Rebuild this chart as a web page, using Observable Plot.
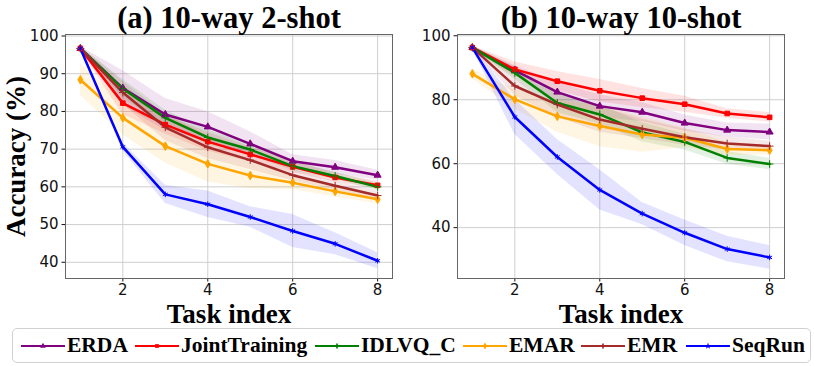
<!DOCTYPE html>
<html>
<head>
<meta charset="utf-8">
<script src="https://cdn.jsdelivr.net/npm/d3@7"></script>
<script src="https://cdn.jsdelivr.net/npm/@observablehq/plot@0.6"></script>
<style>
  html, body { margin: 0; padding: 0; background: white; }
  #fig { position: relative; width: 814px; height: 366px; overflow: hidden; background: white; }
  .panel { position: absolute; top: 0; }
  #legend {
    position: absolute; left: 12px; top: 328px; width: 797px; height: 33px;
    border: 1px solid #d0d0d0; border-radius: 5px; box-sizing: content-box; color: #000;
  }
  .item { position: absolute; top: 0; height: 33px; display: flex; align-items: center; white-space: nowrap; }
  .item svg { margin-right: 2px; }
</style>
</head>
<body>
<div id="fig">
  <div id="left" class="panel" style="left:0px"></div>
  <div id="right" class="panel" style="left:400px"></div>
  <div id="legend"></div>
</div>
<script>
// ---- data ----
const tasks = [1, 2, 3, 4, 5, 6, 7, 8];
const methods = ["ERDA", "JointTraining", "IDLVQ_C", "EMAR", "EMR", "SeqRun"];
const colors = ["#800080", "#ff0000", "#008000", "#ffa500", "#a52a2a", "#0000ff"];
const symbols = ["triangle", "square", "plus", "diamond", "plus", "asterisk"];

const titleA = "(a) 10-way 2-shot";
const titleB = "(b) 10-way 10-shot";
const xLabel = "Task index";
const yLabel = "Accuracy (%)";
const xTicks = [2, 4, 6, 8];
const yTicksA = [40, 50, 60, 70, 80, 90, 100];
const yTicksB = [40, 60, 80, 100];

// (a) 10-way 2-shot: means
const a_ERDA   = [96.7, 86.2, 79.2, 75.9, 71.4, 66.8, 65.2, 63.1];
const a_Joint  = [96.7, 82.2, 76.5, 72.0, 68.6, 65.3, 62.5, 60.4];
const a_IDLVQ  = [96.7, 86.0, 78.3, 73.1, 69.9, 65.5, 62.9, 60.0];
const a_EMAR   = [88.4, 78.3, 70.8, 66.1, 63.0, 61.1, 58.8, 56.7];
const a_EMR    = [96.7, 85.0, 75.8, 70.5, 67.1, 63.1, 60.3, 57.7];
const a_SeqRun = [96.7, 70.6, 58.0, 55.4, 52.0, 48.3, 44.9, 40.4];
// (a) band half-widths
const a_ERDA_sd   = [0.5, 4.6, 4.2, 4.0, 3.2, 1.7, 1.8, 1.3];
const a_Joint_sd  = [0.5, 3.0, 2.5, 2.5, 2.0, 1.5, 1.2, 1.0];
const a_IDLVQ_sd  = [0.5, 2.5, 2.0, 2.0, 1.5, 1.2, 1.0, 1.0];
const a_EMAR_sd   = [4.1, 4.5, 4.5, 4.8, 3.5, 1.8, 1.5, 1.2];
const a_EMR_sd    = [0.5, 3.0, 3.5, 3.0, 2.5, 1.5, 1.2, 1.2];
const a_SeqRun_sd = [0.3, 1.0, 2.4, 3.5, 2.7, 4.4, 2.9, 2.1];

// (b) 10-way 10-shot: means
const b_ERDA   = [96.3, 89.2, 82.4, 78.0, 76.1, 72.7, 70.5, 69.9];
const b_Joint  = [96.3, 89.5, 85.8, 82.8, 80.5, 78.6, 75.7, 74.5];
const b_IDLVQ  = [96.3, 88.4, 79.0, 75.4, 69.8, 66.8, 61.8, 59.9];
const b_EMAR   = [88.1, 80.1, 74.8, 71.8, 69.1, 68.1, 64.6, 64.2];
const b_EMR    = [96.3, 84.3, 78.5, 73.8, 70.9, 68.3, 66.3, 65.5];
const b_SeqRun = [96.3, 74.6, 62.1, 51.8, 44.4, 38.4, 33.3, 30.7];
// (b) band half-widths
const b_ERDA_sd   = [0.5, 1.5, 3.0, 3.5, 3.0, 2.5, 2.2, 2.5];
const b_Joint_sd  = [0.5, 2.3, 3.0, 3.5, 3.0, 2.5, 1.5, 1.5];
const b_IDLVQ_sd  = [0.5, 2.0, 3.0, 3.0, 3.0, 2.5, 2.0, 1.8];
const b_EMAR_sd   = [1.5, 3.0, 5.0, 6.5, 5.5, 3.0, 2.0, 1.5];
const b_EMR_sd    = [0.5, 3.0, 4.0, 4.0, 3.0, 2.5, 2.0, 1.5];
const b_SeqRun_sd = [0.5, 5.5, 5.5, 6.3, 3.5, 4.0, 4.0, 3.7];

function rows(means, sds) {
  const out = [];
  methods.forEach((m, k) => {
    tasks.forEach((t, i) => {
      out.push({method: m, task: t, value: means[k][i], lo: means[k][i] - sds[k][i], hi: means[k][i] + sds[k][i]});
    });
  });
  return out;
}
const dataA = rows([a_ERDA, a_Joint, a_IDLVQ, a_EMAR, a_EMR, a_SeqRun],
                   [a_ERDA_sd, a_Joint_sd, a_IDLVQ_sd, a_EMAR_sd, a_EMR_sd, a_SeqRun_sd]);
const dataB = rows([b_ERDA, b_Joint, b_IDLVQ, b_EMAR, b_EMR, b_SeqRun],
                   [b_ERDA_sd, b_Joint_sd, b_IDLVQ_sd, b_EMAR_sd, b_EMR_sd, b_SeqRun_sd]);

const serif = "Liberation Serif, DejaVu Serif, serif";

function panel(data, opts) {
  const marks = [
    Plot.ruleX(xTicks, {stroke: "#cfcfcf", strokeWidth: 1}),
    Plot.ruleY(opts.yTicks, {stroke: "#cfcfcf", strokeWidth: 1}),
    Plot.areaY(data, {x: "task", y1: "lo", y2: "hi", z: "method", fill: "method", fillOpacity: 0.11}),
    Plot.line(data, {x: "task", y: "value", z: "method", stroke: "method", strokeWidth: 2.5}),
    Plot.dot(data, {x: "task", y: "value", fill: "method", stroke: "method", symbol: "method", r: 2.6, strokeWidth: 1}),
    Plot.frame({stroke: "#666", strokeWidth: 1}),
    Plot.text([opts.title], {text: d => d, frameAnchor: "top", textAnchor: "middle", lineAnchor: "bottom", dy: -7,
      fontFamily: serif, fontWeight: "bold", fontSize: 30.5, fill: "black"}),
    Plot.text([xLabel], {text: d => d, frameAnchor: "bottom", textAnchor: "middle", lineAnchor: "bottom", dy: 44,
      fontFamily: serif, fontWeight: "bold", fontSize: 27, fill: "black"})
  ];
  if (opts.yLabel) {
    marks.push(Plot.text([yLabel], {text: d => d, frameAnchor: "left", textAnchor: "middle", lineAnchor: "bottom", rotate: -90, dx: -40.5,
      fontFamily: serif, fontWeight: "bold", fontSize: 27, fill: "black"}));
  }
  return Plot.plot({
    width: opts.width, height: 326,
    marginLeft: opts.ml, marginRight: opts.mr, marginTop: 34, marginBottom: 48,
    x: {domain: [0.65, 8.35], ticks: xTicks, tickSize: 3.5, tickPadding: 2.5, label: null, tickFormat: d => String(d)},
    y: {domain: opts.yDomain, ticks: opts.yTicks, tickSize: 3.5, tickPadding: 3.5, label: null, tickFormat: d => String(d)},
    color: {domain: methods, range: colors},
    symbol: {domain: methods, range: symbols},
    style: {fontFamily: "DejaVu Sans, sans-serif", fontSize: "15px", color: "#111", background: "white", overflow: "visible"},
    marks
  });
}

document.getElementById("left").appendChild(
  panel(dataA, {title: titleA, width: 400, ml: 65, mr: 8, yDomain: [35.7, 100.4], yTicks: yTicksA, yLabel: true}));
document.getElementById("right").appendChild(
  panel(dataB, {title: titleB, width: 414, ml: 57, mr: 30, yDomain: [24.1, 100.4], yTicks: yTicksB, yLabel: false}));

// ---- legend ----
const legendX = [8, 122, 302, 450, 568, 673]; // item starts inside the legend box
const legend = d3.select("#legend");
const symMap = {triangle: d3.symbolTriangle, square: d3.symbolSquare, plus: d3.symbolCross, diamond: d3.symbolDiamond, asterisk: d3.symbolStar};
methods.forEach((m, i) => {
  const it = legend.append("div").attr("class", "item").style("left", legendX[i] + "px");
  const s = it.append("svg").attr("width", 44).attr("height", 12);
  s.append("line").attr("x1", 0).attr("x2", 44).attr("y1", 6).attr("y2", 6)
    .attr("stroke", colors[i]).attr("stroke-width", 2);
  s.append("path").attr("transform", "translate(22,6)")
    .attr("d", d3.symbol(symMap[symbols[i]], 14)())
    .attr("fill", colors[i]);
  it.append("span")
    .style("font-family", "'Liberation Serif', 'DejaVu Serif', serif")
    .style("font-weight", "bold")
    .style("font-size", "21.5px")
    .style("color", "#000")
    .text(m);
});
</script>
</body>
</html>
